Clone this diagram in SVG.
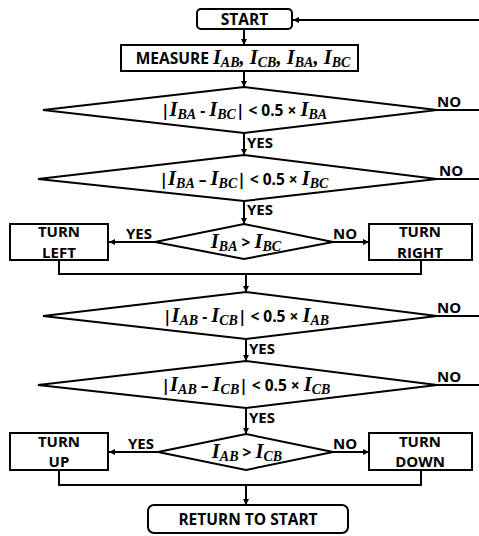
<svg xmlns="http://www.w3.org/2000/svg" width="479" height="536" viewBox="0 0 479 536">
  <defs>
    <marker id="ah" viewBox="0 0 8 8" refX="8" refY="4" markerWidth="6" markerHeight="6" markerUnits="userSpaceOnUse" orient="auto">
      <path d="M0,0 L8,4 L0,8 z" fill="#000"/>
    </marker>
    <style>
      .box { fill: #fff; stroke: #000; stroke-width: 2; }
      .ln { fill: none; stroke: #000; stroke-width: 2; }
      .arr { fill: none; stroke: #000; stroke-width: 2; marker-end: url(#ah); }
      .t { font-family: "Open Sans", "Liberation Sans", sans-serif; font-weight: bold; font-size: 15.5px; fill: #000; }
      .lb { font-size: 15px; }
      .two { font-size: 15px; }
      .m { font-family: "Liberation Serif", serif; font-style: italic; font-weight: bold; font-size: 20.5px; }
      .s { font-size: 14px; }
    </style>
  </defs>
  <rect width="479" height="536" fill="#fff"/>

  <g id="connectors">
    <!-- return loop into START -->
    <line class="arr" x1="479" y1="20" x2="293" y2="20"/>
    <line class="arr" x1="244" y1="29" x2="244" y2="45"/>
    <line class="arr" x1="244" y1="71" x2="244" y2="87"/>
    <!-- NO exits -->
    <line class="ln" x1="437" y1="110" x2="479" y2="110"/>
    <line class="ln" x1="437" y1="179" x2="479" y2="179"/>
    <line class="ln" x1="437" y1="316" x2="479" y2="316"/>
    <line class="ln" x1="437" y1="385" x2="479" y2="385"/>
    <!-- YES chain, first half -->
    <line class="arr" x1="244" y1="133" x2="244" y2="155"/>
    <line class="arr" x1="244" y1="201" x2="244" y2="224"/>
    <line class="arr" x1="155" y1="242" x2="109" y2="242"/>
    <line class="arr" x1="333" y1="242" x2="369" y2="242"/>
    <polyline class="ln" points="59,260 59,274 421,274 421,260"/>
    <line class="arr" x1="246" y1="274" x2="246" y2="292"/>
    <!-- YES chain, second half -->
    <line class="arr" x1="246" y1="339" x2="246" y2="361"/>
    <line class="arr" x1="246" y1="408" x2="246" y2="434"/>
    <line class="arr" x1="158" y1="452" x2="109" y2="452"/>
    <line class="arr" x1="333" y1="452" x2="369" y2="452"/>
    <polyline class="ln" points="59,470 59,485 421,485 421,470"/>
    <line class="arr" x1="246" y1="485" x2="246" y2="505"/>

    <!-- branch labels -->
    <text class="t lb" x="437" y="107">NO</text>
    <text class="t lb" x="439" y="176">NO</text>
    <text class="t lb" x="437" y="313">NO</text>
    <text class="t lb" x="437" y="382">NO</text>
    <text class="t lb" x="247" y="148">YES</text>
    <text class="t lb" x="247" y="215">YES</text>
    <text class="t lb" x="249" y="354">YES</text>
    <text class="t lb" x="249" y="423">YES</text>
    <text class="t lb" x="126" y="239">YES</text>
    <text class="t lb" x="333" y="239">NO</text>
    <text class="t lb" x="128" y="449">YES</text>
    <text class="t lb" x="333" y="449">NO</text>
  </g>

  <g id="start">
    <rect class="box" x="197" y="9" width="95" height="20" rx="4"/>
    <text class="t" x="244.5" y="25" text-anchor="middle">START</text>
  </g>

  <g id="measure">
    <rect class="box" x="121" y="45" width="237" height="26"/>
    <text class="t" x="243" y="64" text-anchor="middle">MEASURE  <tspan class="m">I</tspan><tspan class="m s" dy="3">AB</tspan><tspan class="m" dy="-3">, I</tspan><tspan class="m s" dy="3">CB</tspan><tspan class="m" dy="-3">, I</tspan><tspan class="m s" dy="3">BA</tspan><tspan class="m" dy="-3">, I</tspan><tspan class="m s" dy="3">BC</tspan></text>
  </g>

  <g id="check-ba-1">
    <polygon class="box" points="244,87 437,110 244,133 43,110"/>
    <text class="t" x="244" y="116" text-anchor="middle">|<tspan class="m">I</tspan><tspan class="m s" dy="3">BA</tspan><tspan dy="-3">  -  </tspan><tspan class="m">I</tspan><tspan class="m s" dy="3">BC</tspan><tspan dy="-3">| &lt; 0.5 × </tspan><tspan class="m">I</tspan><tspan class="m s" dy="3">BA</tspan></text>
  </g>

  <g id="check-ba-2">
    <polygon class="box" points="244,155 437,179 244,201 38,179"/>
    <text class="t" x="244" y="185" text-anchor="middle">|<tspan class="m">I</tspan><tspan class="m s" dy="3">BA</tspan><tspan dy="-3"> – </tspan><tspan class="m">I</tspan><tspan class="m s" dy="3">BC</tspan><tspan dy="-3">| &lt; 0.5 × </tspan><tspan class="m">I</tspan><tspan class="m s" dy="3">BC</tspan></text>
  </g>

  <g id="compare-ba-bc">
    <polygon class="box" points="244,224 333,242 244,259 155,242"/>
    <text class="t" x="246" y="248" text-anchor="middle"><tspan class="m">I</tspan><tspan class="m s" dy="3">BA</tspan><tspan dy="-3"> &gt; </tspan><tspan class="m">I</tspan><tspan class="m s" dy="3">BC</tspan></text>
  </g>

  <g id="turn-left">
    <rect class="box" x="10" y="224" width="98" height="36"/>
    <text class="t two" x="59" y="237" text-anchor="middle">TURN</text>
    <text class="t two" x="59" y="257.5" text-anchor="middle">LEFT</text>
  </g>

  <g id="turn-right">
    <rect class="box" x="369" y="224" width="103" height="36"/>
    <text class="t two" x="420" y="237" text-anchor="middle">TURN</text>
    <text class="t two" x="420" y="257.5" text-anchor="middle">RIGHT</text>
  </g>

  <g id="check-ab-1">
    <polygon class="box" points="246,292 437,316 246,339 43,316"/>
    <text class="t" x="246" y="322" text-anchor="middle">|<tspan class="m">I</tspan><tspan class="m s" dy="3">AB</tspan><tspan dy="-3">  -  </tspan><tspan class="m">I</tspan><tspan class="m s" dy="3">CB</tspan><tspan dy="-3">| &lt; 0.5 × </tspan><tspan class="m">I</tspan><tspan class="m s" dy="3">AB</tspan></text>
  </g>

  <g id="check-ab-2">
    <polygon class="box" points="246,361 437,385 246,408 38,385"/>
    <text class="t" x="246" y="391" text-anchor="middle">|<tspan class="m">I</tspan><tspan class="m s" dy="3">AB</tspan><tspan dy="-3"> – </tspan><tspan class="m">I</tspan><tspan class="m s" dy="3">CB</tspan><tspan dy="-3">| &lt; 0.5 × </tspan><tspan class="m">I</tspan><tspan class="m s" dy="3">CB</tspan></text>
  </g>

  <g id="compare-ab-cb">
    <polygon class="box" points="246,434 333,452 246,470 158,452"/>
    <text class="t" x="247" y="458" text-anchor="middle"><tspan class="m">I</tspan><tspan class="m s" dy="3">AB</tspan><tspan dy="-3"> &gt; </tspan><tspan class="m">I</tspan><tspan class="m s" dy="3">CB</tspan></text>
  </g>

  <g id="turn-up">
    <rect class="box" x="10" y="433" width="98" height="37"/>
    <text class="t two" x="59" y="446.5" text-anchor="middle">TURN</text>
    <text class="t two" x="59" y="467" text-anchor="middle">UP</text>
  </g>

  <g id="turn-down">
    <rect class="box" x="369" y="433" width="103" height="37"/>
    <text class="t two" x="420" y="446.5" text-anchor="middle">TURN</text>
    <text class="t two" x="420" y="467" text-anchor="middle">DOWN</text>
  </g>

  <g id="return-to-start">
    <rect class="box" x="148" y="505" width="200" height="28" rx="6"/>
    <text class="t" x="248" y="525" text-anchor="middle">RETURN TO START</text>
  </g>
</svg>
